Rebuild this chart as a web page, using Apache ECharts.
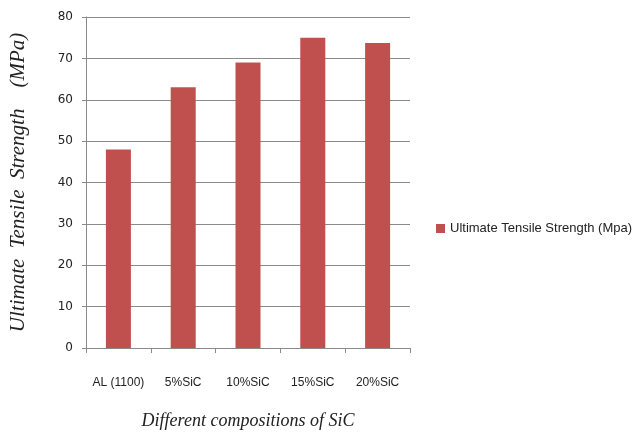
<!DOCTYPE html>
<html>
<head>
<meta charset="utf-8">
<script src="https://cdn.jsdelivr.net/npm/echarts@6/dist/echarts.min.js"></script>
<style>
  html, body { margin: 0; padding: 0; background: #fff; }
  #chart { width: 638px; height: 437px; }
</style>
</head>
<body>
<div id="chart"></div>
<script>
// Tensile strength of Al 1100 with increasing SiC content
const categories = ['AL (1100)', '5%SiC', '10%SiC', '15%SiC', '20%SiC'];
const strengthValues = [48, 63, 69, 75, 73.7];
const yTicks = { min: 0, max: 80, interval: 10 };
const seriesName = 'Ultimate Tensile Strength (Mpa)';

const chart = echarts.init(document.getElementById('chart'), null, { renderer: 'canvas' });
const axisGray = '#8a8a8a';

chart.setOption({
  backgroundColor: '#ffffff',
  animation: false,
  grid: { left: 86, right: 228, top: 17, bottom: 89 },
  legend: {
    data: [seriesName],
    orient: 'vertical',
    left: 431,
    top: 217,
    itemWidth: 9,
    itemHeight: 9,
    itemGap: 4,
    icon: 'rect',
    textStyle: { fontFamily: 'Liberation Sans', fontSize: 13, color: '#222' }
  },
  xAxis: {
    type: 'category',
    data: categories,
    name: 'Different compositions of SiC',
    nameLocation: 'middle',
    nameGap: 64,
    nameTextStyle: { fontFamily: 'Liberation Serif', fontStyle: 'italic', fontSize: 18, color: '#222' },
    axisLine: { lineStyle: { color: axisGray, width: 1 } },
    axisTick: { show: true, interval: 0, alignWithLabel: false, length: 5, lineStyle: { color: axisGray } },
    axisLabel: { interval: 0, margin: 29, fontFamily: 'Liberation Sans', fontSize: 12, color: '#222' }
  },
  yAxis: {
    type: 'value',
    min: yTicks.min,
    max: yTicks.max,
    interval: yTicks.interval,
    name: 'Ultimate  Tensile  Strength    (MPa)',
    nameLocation: 'middle',
    nameGap: 57,
    nameTextStyle: { fontFamily: 'Liberation Serif', fontStyle: 'italic', fontSize: 21, color: '#222' },
    axisLine: { show: true, lineStyle: { color: axisGray, width: 1 } },
    axisTick: { show: true, length: 4, lineStyle: { color: axisGray } },
    axisLabel: { margin: 13, fontFamily: 'DejaVu Sans', fontSize: 12, color: '#222' },
    splitLine: { show: true, lineStyle: { color: axisGray, width: 1 } }
  },
  series: [{
    name: seriesName,
    type: 'bar',
    data: strengthValues,
    barWidth: 25,
    itemStyle: { color: '#C0504D' }
  }]
});
</script>
</body>
</html>
